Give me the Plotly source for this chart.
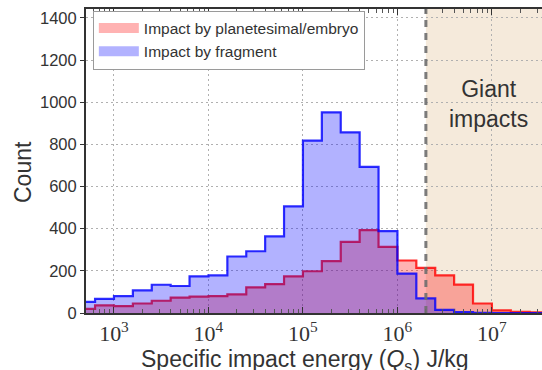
import plotly.graph_objects as go

# Histogram bin edges (log10 of specific impact energy, J/kg)
bin_edges_log = [2.6, 2.8, 3.0, 3.2, 3.4, 3.6, 3.8, 4.0, 4.2, 4.4, 4.6, 4.8, 5.0,
                 5.2, 5.4, 5.6, 5.8, 6.0, 6.2, 6.4, 6.6, 6.8, 7.0, 7.2, 7.4, 7.6]
# Counts per bin
planetesimal_counts = [20, 36, 33, 45, 58, 73, 78, 80, 88, 122, 137, 174, 198,
                       246, 337, 393, 314, 249, 214, 178, 135, 45, 12, 5, 3]
fragment_counts = [53, 67, 80, 107, 134, 128, 174, 178, 268, 293, 363, 506, 818,
                   952, 857, 693, 388, 187, 69, 15, 4, 1, 0, 0, 0]
giant_impact_threshold = 2e6
x_tick_values = [1e3, 1e4, 1e5, 1e6, 1e7]
x_tick_text = ["10<sup>3</sup>", "10<sup>4</sup>", "10<sup>5</sup>", "10<sup>6</sup>", "10<sup>7</sup>"]
y_tick_values = [0, 200, 400, 600, 800, 1000, 1200, 1400]

series_names = ["Impact by planetesimal/embryo", "Impact by fragment"]


def step_xy(edges_log, counts):
    xs = [10 ** edges_log[0]] + [10 ** e for e in edges_log]
    ys = [0] + list(counts) + [0]
    return xs, ys


fig = go.Figure()

styles = [
    dict(fill="rgba(255,0,0,0.3)", line="rgba(255,0,0,0.82)"),
    dict(fill="rgba(0,0,255,0.3)", line="rgba(0,0,255,0.82)"),
]

for counts, st in zip([planetesimal_counts, fragment_counts], styles):
    xs, ys = step_xy(bin_edges_log, counts)
    fig.add_trace(go.Scatter(
        x=xs, y=ys, mode="lines",
        line=dict(shape="hv", color=st["line"], width=2.2),
        fill="tozeroy", fillcolor=st["fill"],
        showlegend=False, hoverinfo="skip",
    ))

# legend patches (thick line symbols act as colour patches)
for name, st in zip(series_names, styles):
    fig.add_trace(go.Scatter(
        x=[None], y=[None], mode="lines", name=name,
        line=dict(width=10, color=st["fill"]),
    ))

# Giant impacts region
fig.add_shape(type="rect", xref="x", yref="paper",
              x0=giant_impact_threshold, x1=1e8, y0=0, y1=1,
              fillcolor="#f5eadb", line=dict(width=0), layer="below")
fig.add_shape(type="line", xref="x", yref="paper",
              x0=giant_impact_threshold, x1=giant_impact_threshold, y0=0, y1=1,
              line=dict(color="rgba(110,110,110,0.9)", width=3, dash="7px,6px"),
              layer="above")

minor_vals = [k * 10 ** p for p in range(2, 8) for k in range(2, 10)]

fig.update_layout(
    width=542, height=370,
    margin=dict(l=86, r=0, t=9, b=57),
    paper_bgcolor="white", plot_bgcolor="white",
    font=dict(family="Liberation Sans", color="#333333", size=16),
    xaxis=dict(
        type="log", range=[2.704, 7.53],
        tickmode="array", tickvals=x_tick_values, ticktext=x_tick_text,
        tickfont=dict(family="Liberation Serif", size=22, color="#333333"),
        ticks="inside", ticklen=6, tickwidth=1.2, tickcolor="#333333",
        showline=True, linecolor="#333333", linewidth=2, mirror="ticks",
        showgrid=True, gridcolor="#b0b0b0", griddash="2px,3px", gridwidth=1,
        minor=dict(tickmode="array", tickvals=minor_vals, ticks="inside",
                   ticklen=4, tickcolor="#555555", showgrid=False),
        zeroline=False,
    ),
    yaxis=dict(
        range=[0, 1442], tickmode="array", tickvals=y_tick_values,
        ticks="outside", ticklen=4, tickcolor="#333333",
        showline=True, linecolor="#333333", linewidth=2, mirror=False,
        showgrid=True, gridcolor="#b0b0b0", griddash="2px,3px", gridwidth=1,
        zeroline=False, tickfont=dict(size=16.5),
    ),
    legend=dict(
        x=0.015, y=0.995, xanchor="left", yanchor="top",
        bgcolor="white", bordercolor="#9a9a9a", borderwidth=1,
        font=dict(size=15.5, color="#333333"), tracegroupgap=0,
        itemwidth=40,
    ),
    annotations=[
        dict(text="Count", xref="paper", yref="paper", x=-0.138, y=0.464,
             textangle=-90, showarrow=False, font=dict(size=23),
             xanchor="center", yanchor="middle"),
        dict(text="Specific impact energy (<i>Q</i><sub>s</sub>) J/kg",
             xref="paper", yref="paper", x=0.48, y=-0.155, showarrow=False,
             font=dict(size=23), xanchor="center", yanchor="middle"),
        dict(text="Giant<br>impacts", xref="paper", yref="paper", x=0.8816,
             y=0.689, showarrow=False, font=dict(size=23), align="center",
             xanchor="center", yanchor="middle"),
    ],
)

fig.write_html("out.html")
